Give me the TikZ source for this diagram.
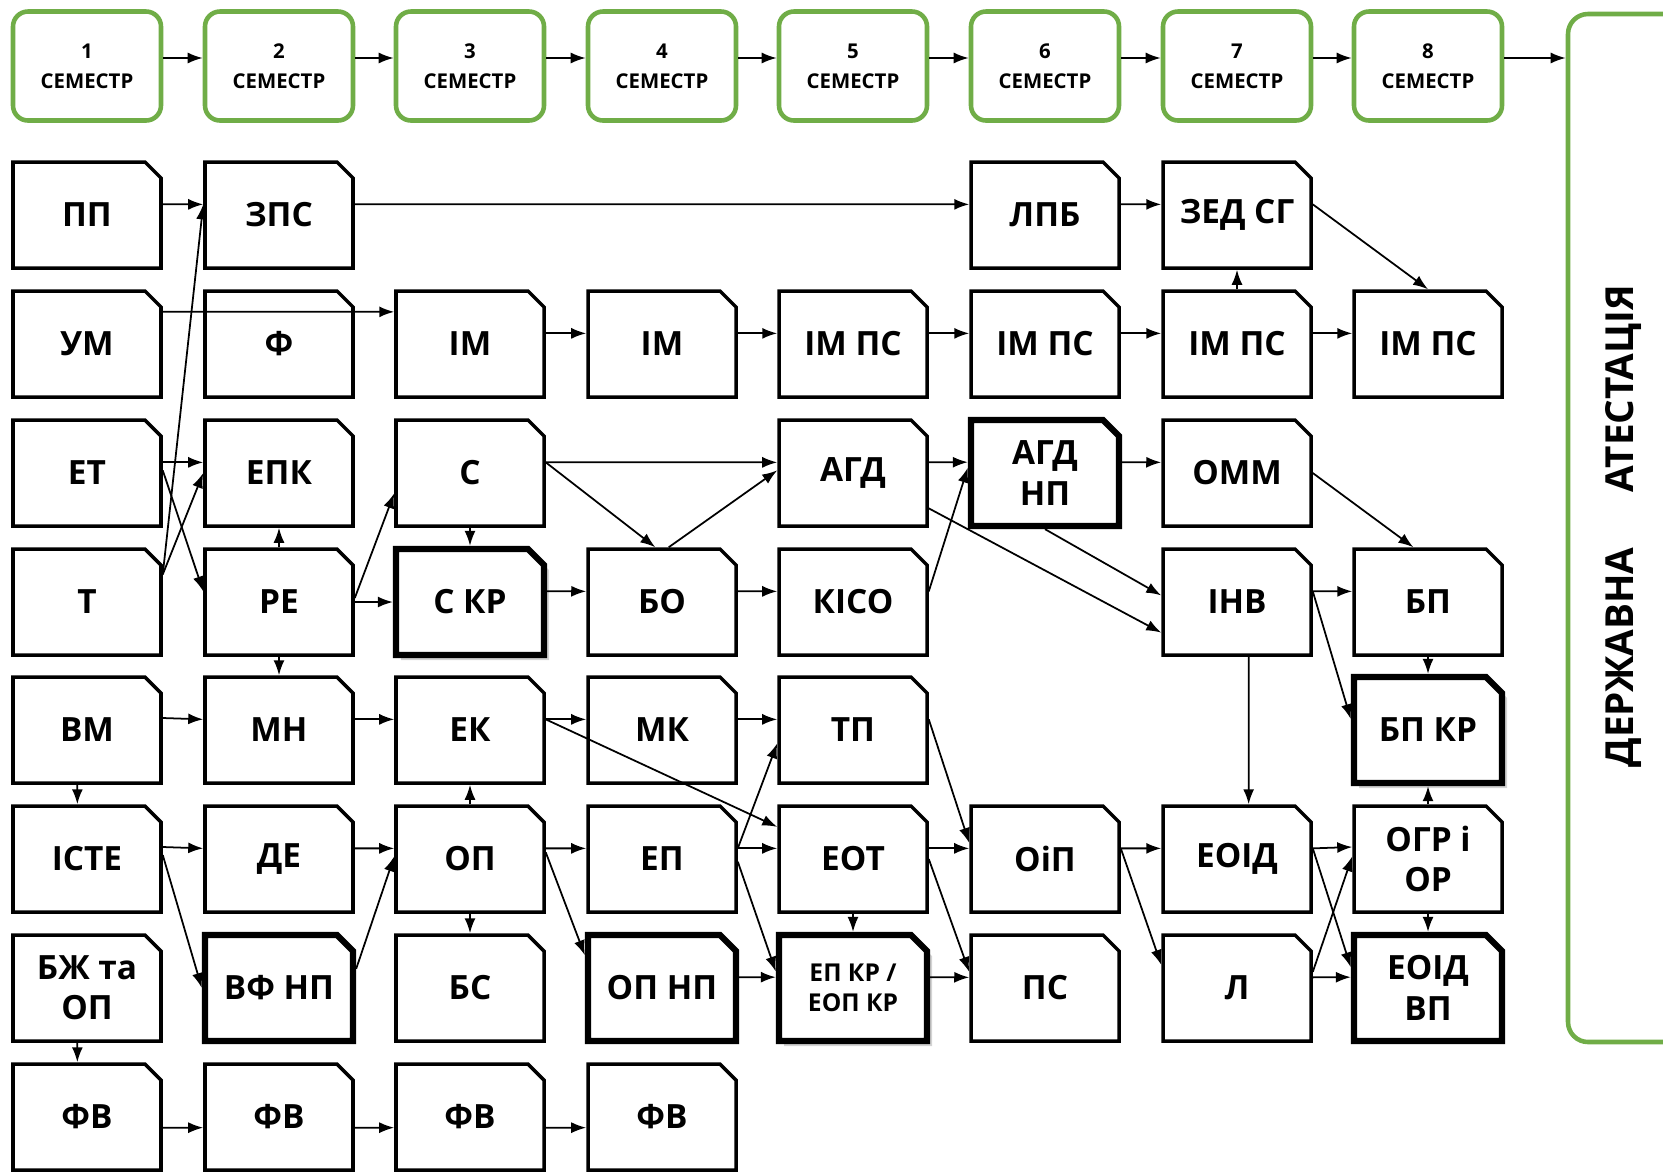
\documentclass[tikz,border=0pt]{standalone}
\usepackage{fontspec}
\setmainfont{Open Sans}
\usetikzlibrary{shapes,arrows.meta,shadows}
\definecolor{sem_green}{RGB}{112, 173, 71}
\tikzstyle{subj}=[chamfered rectangle,chamfered rectangle corners=north east,
  chamfered rectangle xsep=0.08cm,chamfered rectangle ysep=0.08cm,fill=white,draw=black,
  line width=1pt,inner sep=1pt,minimum width=1.48cm,minimum height=1.06cm,
  align=center,font=\fontsize{9.5}{11.5}\selectfont\bfseries]
\tikzstyle{subjnp}=[subj,line width=1.8pt]
\tikzstyle{subjkr}=[subjnp,drop shadow={shadow xshift=0.05cm,shadow yshift=-0.05cm,opacity=0.35}]
\tikzstyle{sem}=[rectangle,rounded corners=0.15cm,draw=sem_green,line width=1.3pt,
  minimum width=1.48cm,minimum height=1.09cm,align=center,font=\fontsize{5.8}{8.5}\selectfont\bfseries]
\tikzstyle{arr}=[-{Latex[length=1.5mm,width=1.1mm]},line width=0.5pt]

\begin{document}
\begin{tikzpicture}
    \useasboundingbox (0,0) rectangle (16.63,-11.71);
    \node [style=sem] (s1) at (0.87,-0.66) {1\\СЕМЕСТР};
    \node [style=sem] (s2) at (2.79,-0.66) {2\\СЕМЕСТР};
    \node [style=sem] (s3) at (4.70,-0.66) {3\\СЕМЕСТР};
    \node [style=sem] (s4) at (6.62,-0.66) {4\\СЕМЕСТР};
    \node [style=sem] (s5) at (8.53,-0.66) {5\\СЕМЕСТР};
    \node [style=sem] (s6) at (10.45,-0.66) {6\\СЕМЕСТР};
    \node [style=sem] (s7) at (12.37,-0.66) {7\\СЕМЕСТР};
    \node [style=sem] (s8) at (14.28,-0.66) {8\\СЕМЕСТР};
    \node [rectangle,rounded corners=0.2cm,draw=sem_green,line width=1.3pt,
      minimum width=1.4cm,minimum height=10.28cm] (da) at (16.38,-5.28) {};
    \node [rotate=90,font=\fontsize{11}{13}\selectfont\bfseries] (datext) at (16.23,-5.26)
      {ДЕРЖАВНА\hspace{0.55cm}АТЕСТАЦІЯ};
    % row 1
    \node [style=subj] (pp) at (0.87,-2.15) {ПП};
    \node [style=subj] (zps) at (2.79,-2.15) {ЗПС};
    \node [style=subj] (lpb) at (10.45,-2.15) {ЛПБ};
    \node [style=subj] (zed) at (12.37,-2.15) {ЗЕД СГ};
    % row 2
    \node [style=subj] (um) at (0.87,-3.44) {УМ};
    \node [style=subj] (f) at (2.79,-3.44) {Ф};
    \node [style=subj] (im3) at (4.70,-3.44) {ІМ};
    \node [style=subj] (im4) at (6.62,-3.44) {ІМ};
    \node [style=subj] (imps5) at (8.53,-3.44) {ІМ ПС};
    \node [style=subj] (imps6) at (10.45,-3.44) {ІМ ПС};
    \node [style=subj] (imps7) at (12.37,-3.44) {ІМ ПС};
    \node [style=subj] (imps8) at (14.28,-3.44) {ІМ ПС};
    % row 3
    \node [style=subj] (et) at (0.87,-4.73) {ЕТ};
    \node [style=subj] (epk) at (2.79,-4.73) {ЕПК};
    \node [style=subj] (c) at (4.70,-4.73) {С};
    \node [style=subj] (agd) at (8.53,-4.73) {АГД};
    \node [style=subjnp] (agdnp) at (10.45,-4.73) {АГД\\НП};
    \node [style=subj] (omm) at (12.37,-4.73) {ОММ};
    % row 4
    \node [style=subj] (t) at (0.87,-6.02) {Т};
    \node [style=subj] (re) at (2.79,-6.02) {РЕ};
    \node [style=subjkr] (ckr) at (4.70,-6.02) {С КР};
    \node [style=subj] (bo) at (6.62,-6.02) {БО};
    \node [style=subj] (kiso) at (8.53,-6.02) {КІСО};
    \node [style=subj] (inv) at (12.37,-6.02) {ІНВ};
    \node [style=subj] (bp) at (14.28,-6.02) {БП};
    % row 5
    \node [style=subj] (vm) at (0.87,-7.30) {ВМ};
    \node [style=subj] (mn) at (2.79,-7.30) {МН};
    \node [style=subj] (ek) at (4.70,-7.30) {ЕК};
    \node [style=subj] (mk) at (6.62,-7.30) {МК};
    \node [style=subj] (tp) at (8.53,-7.30) {ТП};
    \node [style=subjkr] (bpkr) at (14.28,-7.30) {БП КР};
    % row 6
    \node [style=subj] (iste) at (0.87,-8.59) {ІСТЕ};
    \node [style=subj] (de) at (2.79,-8.59) {ДЕ};
    \node [style=subj] (op) at (4.70,-8.59) {ОП};
    \node [style=subj] (ep) at (6.62,-8.59) {ЕП};
    \node [style=subj] (eot) at (8.53,-8.59) {ЕОТ};
    \node [style=subj] (oip) at (10.45,-8.59) {ОіП};
    \node [style=subj] (eoid) at (12.37,-8.59) {ЕОІД};
    \node [style=subj] (ogr) at (14.28,-8.59) {ОГР і\\ОР};
    % row 7
    \node [style=subj] (bzh) at (0.87,-9.88) {БЖ та\\ОП};
    \node [style=subjnp] (vfnp) at (2.79,-9.88) {ВФ НП};
    \node [style=subj] (bs) at (4.70,-9.88) {БС};
    \node [style=subjnp] (opnp) at (6.62,-9.88) {ОП НП};
    \node [style=subjkr,font=\fontsize{7}{8.5}\selectfont\bfseries] (epkr) at (8.53,-9.88) {ЕП КР /\\ЕОП КР};
    \node [style=subj] (ps) at (10.45,-9.88) {ПС};
    \node [style=subj] (l) at (12.37,-9.88) {Л};
    \node [style=subjnp] (eoidvp) at (14.28,-9.88) {ЕОІД\\ВП};
    % row 8
    \node [style=subj] (fv1) at (0.87,-11.17) {ФВ};
    \node [style=subj] (fv2) at (2.79,-11.17) {ФВ};
    \node [style=subj] (fv3) at (4.70,-11.17) {ФВ};
    \node [style=subj] (fv4) at (6.62,-11.17) {ФВ};
    % semesters
    \draw [style=arr] (s1.6) to (s2.174);
    \draw [style=arr] (s2.6) to (s3.174);
    \draw [style=arr] (s3.6) to (s4.174);
    \draw [style=arr] (s4.6) to (s5.174);
    \draw [style=arr] (s5.6) to (s6.174);
    \draw [style=arr] (s6.6) to (s7.174);
    \draw [style=arr] (s7.6) to (s8.174);
    \draw [style=arr] (s8.6) to (s8.6 -| da.west);
    % links
    \draw [style=arr] (pp.8) to (zps.172);
    \draw [style=arr] (zps.8) to (lpb.172);
    \draw [style=arr] (lpb.8) to (zed.172);
    \draw [style=arr] (zed.8) to (imps8.north);
    \draw [style=arr] (t.20) to (zps.172);
    \draw [style=arr] (um.23) to (im3.157);
    \draw [style=arr] (im3.8) to (im4.172);
    \draw [style=arr] (im4.8) to (imps5.172);
    \draw [style=arr] (imps5.8) to (imps6.172);
    \draw [style=arr] (imps6.8) to (imps7.172);
    \draw [style=arr] (imps7.8) to (imps8.172);
    \draw [style=arr] (imps7.north) to (zed.south);
    \draw [style=arr] (et.8) to (epk.172);
    \draw [style=arr] (et.2) to (re.172);
    \draw [style=arr] (t.20) to (epk.180);
    \draw [style=arr] (re.north) to (epk.south);
    \draw [style=arr] (re.3) to (c.195);
    \draw [style=arr] (re.east) to (ckr.west);
    \draw [style=arr] (re.south) to (mn.north);
    \draw [style=arr] (c.south) to (ckr.north);
    \draw [style=arr] (c.8) to (agd.172);
    \draw [style=arr] (c.8) to (bo.97);
    \draw [style=arr] (bo.83) to (agd.178);
    \draw [style=arr] (agd.8) to (agdnp.172);
    \draw [style=arr] (agd.335) to (inv.202);
    \draw [style=arr] (agdnp.south) to (inv.175);
    \draw [style=arr] (agdnp.8) to (omm.172);
    \draw [style=arr] (kiso.8) to (agdnp.176);
    \draw [style=arr] (omm.east) to (bp.105);
    \draw [style=arr] (ckr.8) to (bo.172);
    \draw [style=arr] (bo.8) to (kiso.172);
    \draw [style=arr] (inv.8) to (bp.172);
    \draw [style=arr] (inv.8) to (bpkr.172);
    \draw [style=arr] (inv.-78) to (eoid.78);
    \draw [style=arr] (bp.south) to (bpkr.north);
    \draw [style=arr] (vm.9) to (mn.172);
    \draw [style=arr] (vm.-100) to (iste.100);
    \draw [style=arr] (mn.8) to (ek.172);
    \draw [style=arr] (ek.8) to (mk.172);
    \draw [style=arr] (ek.8) to (eot.157);
    \draw [style=arr] (mk.8) to (tp.172);
    \draw [style=arr] (tp.8) to (oip.168);
    \draw [style=arr] (op.north) to (ek.south);
    \draw [style=arr] (ogr.north) to (bpkr.south);
    \draw [style=arr] (iste.9) to (de.172);
    \draw [style=arr] (iste.3) to (vfnp.west);
    \draw [style=arr] (de.8) to (op.172);
    \draw [style=arr] (vfnp.14) to (op.178);
    \draw [style=arr] (op.8) to (ep.172);
    \draw [style=arr] (op.5) to (opnp.157);
    \draw [style=arr] (op.south) to (bs.north);
    \draw [style=arr] (ep.8) to (eot.172);
    \draw [style=arr] (ep.8) to (tp.190);
    \draw [style=arr] (ep.-2) to (epkr.168);
    \draw [style=arr] (eot.8) to (oip.172);
    \draw [style=arr] (eot.east) to (ps.168);
    \draw [style=arr] (eot.south) to (epkr.north);
    \draw [style=arr] (oip.8) to (eoid.172);
    \draw [style=arr] (oip.8) to (l.163);
    \draw [style=arr] (eoid.8) to (ogr.171);
    \draw [style=arr] (eoid.8) to (eoidvp.165);
    \draw [style=arr] (ogr.south) to (eoidvp.north);
    \draw [style=arr] (bzh.-100) to (fv1.100);
    \draw [style=arr] (opnp.8) to (epkr.172);
    \draw [style=arr] (epkr.8) to (ps.172);
    \draw [style=arr] (l.8) to (eoidvp.172);
    \draw [style=arr] (l.12) to (ogr.178);
    \draw [style=arr] (fv1.-8) to (fv2.188);
    \draw [style=arr] (fv2.-8) to (fv3.188);
    \draw [style=arr] (fv3.-8) to (fv4.188);
\end{tikzpicture}
\end{document}
